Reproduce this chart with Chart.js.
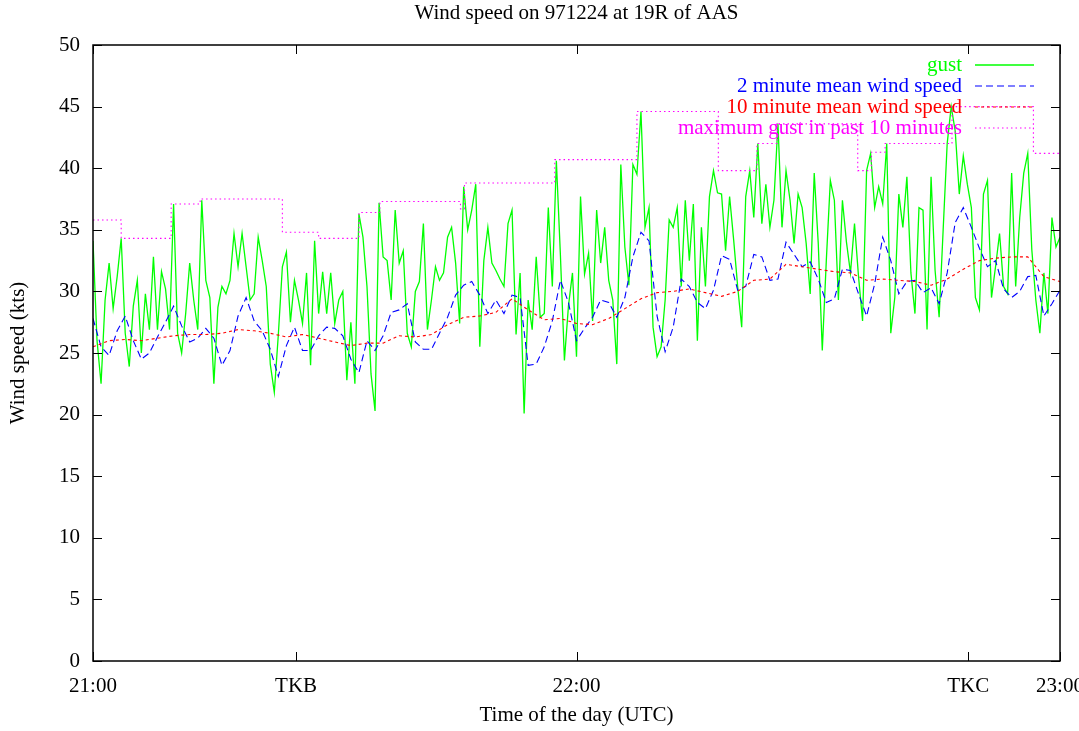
<!DOCTYPE html>
<html>
<head>
<meta charset="utf-8">
<title>Wind speed on 971224 at 19R of AAS</title>
<script src="https://cdn.jsdelivr.net/npm/chart.js@4.4.1/dist/chart.umd.min.js"></script>
<style>
  html, body { margin: 0; padding: 0; background: #ffffff; }
  canvas { display: block; }
</style>
</head>
<body>
<canvas id="wind" width="1079" height="731"></canvas>
<script>
// ---- data (minutes after 21:00 UTC, speeds in knots) ----
const chartTitle = 'Wind speed on 971224 at 19R of AAS';
const xAxisTitle = 'Time of the day (UTC)';
const yAxisTitle = 'Wind speed (kts)';

// x-axis ticks: positions in minutes after 21:00 and their labels
const xTickMinutes = [0, 25.2, 60, 108.6, 120];
const xTickLabels = ['21:00', 'TKB', '22:00', 'TKC', '23:00'];

// gust, one reading every 30 s from 21:00 to 23:00
const gustStepMinutes = 0.5;
const gust = [
  34.1, 26.0, 22.5, 29.3, 32.3, 28.6, 31.2, 34.3, 26.6, 23.9, 28.8, 30.9,
  25.0, 29.8, 26.9, 32.8, 26.9, 31.6, 30.2, 26.9, 37.1, 26.6, 25.0, 28.2,
  32.3, 29.3, 26.9, 37.4, 30.9, 29.5, 22.5, 28.7, 30.4, 29.8, 30.9, 34.7,
  32.0, 34.7, 32.0, 29.3, 29.8, 34.4, 32.5, 30.4, 24.1, 21.8, 26.5, 32.0,
  33.2, 27.5, 30.9, 29.3, 27.4, 31.5, 24.0, 34.1, 28.2, 31.6, 28.2, 31.5,
  27.4, 29.3, 30.0, 22.8, 27.5, 22.5, 36.3, 34.4, 30.4, 23.3, 20.3, 37.2,
  32.8, 32.5, 29.3, 36.6, 32.3, 33.3, 26.6, 25.5, 30.0, 30.8, 35.5, 26.9,
  29.3, 32.0, 30.9, 31.5, 34.4, 35.2, 32.3, 27.4, 38.5, 35.0, 36.6, 38.7,
  25.5, 32.5, 35.2, 32.3, 31.7, 31.0, 30.4, 35.5, 36.6, 26.5, 31.5, 20.1,
  29.3, 26.9, 32.8, 27.9, 28.2, 36.8, 30.4, 40.6, 33.0, 24.4, 28.8, 31.5,
  24.7, 37.7, 31.4, 33.1, 27.6, 36.6, 32.3, 35.2, 30.9, 29.3, 24.1, 40.3,
  33.6, 30.5, 40.3, 39.5, 44.6, 35.2, 36.8, 27.1, 24.7, 25.5, 29.3, 35.8,
  35.2, 36.8, 30.4, 37.4, 32.5, 37.1, 26.0, 35.2, 30.4, 37.7, 39.8, 38.0,
  37.9, 33.3, 37.7, 34.2, 30.4, 27.1, 37.7, 39.8, 36.0, 42.0, 35.5, 38.7,
  35.2, 37.4, 43.6, 35.2, 39.8, 37.4, 33.9, 37.9, 36.8, 33.9, 29.8, 39.6,
  33.9, 25.2, 32.5, 39.0, 37.4, 29.3, 37.4, 34.0, 31.5, 35.5, 31.2, 27.6,
  39.8, 41.2, 36.8, 38.5, 37.1, 42.0, 26.6, 29.5, 37.9, 35.2, 39.3, 31.5,
  28.2, 36.8, 36.6, 26.9, 39.3, 31.7, 27.9, 35.0, 42.0, 45.0, 43.0, 37.9,
  41.0, 38.7, 36.8, 29.5, 28.5, 37.9, 39.0, 29.5, 32.0, 34.7, 30.4, 29.8,
  39.6, 30.4, 36.0, 39.6, 41.2, 33.4, 29.3, 26.6, 31.5, 28.2, 36.0, 33.6,
  34.4
];

// 2 minute mean, one value per minute
const mean2StepMinutes = 1;
const mean2 = [
  27.8, 25.5, 24.8, 26.8, 28.0, 26.0, 24.5, 25.0, 26.3, 27.5, 28.8, 27.2,
  25.9, 26.2, 27.0, 26.2, 24.0, 25.2, 28.0, 29.5, 27.6, 26.8, 25.3, 23.1,
  25.6, 27.1, 25.2, 25.2, 26.4, 27.1, 27.0, 26.4, 24.5, 23.4, 26.0, 25.2,
  26.4, 28.3, 28.5, 29.0, 25.9, 25.3, 25.3, 26.6, 27.9, 29.7, 30.5, 30.8,
  29.7, 28.2, 29.3, 28.2, 29.7, 29.5, 24.0, 24.1, 25.5, 27.6, 30.9, 29.1,
  26.0, 27.0, 27.9, 29.3, 29.1, 27.9, 29.5, 32.8, 34.8, 34.1, 28.0, 25.1,
  27.1, 31.0, 30.4, 29.1, 28.6, 30.1, 32.9, 32.6, 30.1, 30.4, 33.0, 32.8,
  30.9, 31.0, 34.0, 33.0, 32.0, 32.4, 31.0, 29.1, 29.4, 31.8, 31.7, 29.8,
  28.0, 30.6, 34.4, 32.5, 29.8, 30.8, 30.9, 29.9, 30.3, 29.0, 31.5, 35.6,
  36.8, 35.2, 33.5, 32.0, 32.5, 30.2, 29.5, 30.0, 31.2, 31.3, 28.0, 29.0,
  30.1
];

// 10 minute mean, one value every 2 minutes
const mean10StepMinutes = 2;
const mean10 = [
  25.5, 26.0, 26.1, 26.0, 26.2, 26.4, 26.5, 26.5, 26.6, 26.9,
  26.8, 26.6, 26.3, 26.5, 26.2, 25.9, 25.6, 25.8, 25.8, 26.4,
  26.3, 26.5, 27.3, 27.9, 28.0, 28.3, 29.4, 28.5, 27.7, 27.8,
  27.4, 27.3, 27.8, 28.6, 29.4, 29.9, 30.0, 30.2, 29.9, 29.6,
  30.0, 30.9, 31.0, 32.2, 32.0, 31.8, 31.6, 31.5, 30.9, 31.0,
  30.9, 30.8, 30.5, 31.0, 31.8, 32.5, 32.7, 32.8, 32.8, 31.2,
  30.8
];

// maximum gust in the past 10 minutes: value holds from each time until the next
const maxGustMinutes = [0, 3.5, 9.7, 13.3, 23.5, 28.0, 33.0, 35.6, 45.6, 46.1, 57.3, 67.5, 77.6, 82.4, 84.9, 94.9, 96.6, 98.3, 106.6, 116.7, 120];
const maxGustValues  = [35.8, 34.3, 37.1, 37.5, 34.8, 34.3, 36.4, 37.3, 36.7, 38.8, 40.7, 44.6, 39.8, 42.0, 43.6, 39.8, 41.3, 42.0, 45.0, 41.2, 41.2];

// ---- helpers ----
const evenlySpaced = (values, step) => values.map((v, i) => ({ x: i * step, y: v }));
const paired = (xs, ys) => xs.map((x, i) => ({ x: x, y: ys[i] }));

const FAMILY = '"Liberation Serif", "Times New Roman", serif';
const textFont = { family: FAMILY, size: 21, weight: 'normal' };

// Border box and inward tick marks on all four sides (gnuplot style)
const frame = {
  id: 'frame',
  afterDatasetsDraw(chart) {
    const { ctx, chartArea: a, scales: { x, y } } = chart;
    const len = 9;
    ctx.save();
    ctx.strokeStyle = '#000';
    ctx.lineWidth = 1;
    ctx.setLineDash([]);
    ctx.beginPath();
    y.ticks.forEach(t => {
      const py = Math.round(y.getPixelForValue(t.value)) + 0.5;
      ctx.moveTo(a.left, py); ctx.lineTo(a.left + len, py);
      ctx.moveTo(a.right, py); ctx.lineTo(a.right - len, py);
    });
    x.ticks.forEach(t => {
      const px = Math.round(x.getPixelForValue(t.value)) + 0.5;
      ctx.moveTo(px, a.bottom); ctx.lineTo(px, a.bottom - len);
      ctx.moveTo(px, a.top); ctx.lineTo(px, a.top + len);
    });
    ctx.stroke();
    ctx.lineWidth = 1.5;
    ctx.strokeRect(a.left, a.top, a.right - a.left, a.bottom - a.top);
    ctx.restore();
  }
};

// Key in the upper right of the plot: right-aligned coloured text, line sample to its right
const insideKey = {
  id: 'insideKey',
  afterDatasetsDraw(chart, args, opts) {
    const ctx = chart.ctx;
    ctx.save();
    ctx.font = `${opts.fontSize}px ${FAMILY}`;
    ctx.textAlign = 'right';
    ctx.textBaseline = 'middle';
    chart.data.datasets.forEach((ds, i) => {
      const yy = opts.firstRow + i * opts.rowHeight;
      ctx.fillStyle = ds.borderColor;
      ctx.fillText(ds.label, opts.textRight, yy);
      ctx.strokeStyle = ds.borderColor;
      ctx.lineWidth = ds.borderWidth;
      ctx.setLineDash(ds.borderDash || []);
      ctx.beginPath();
      ctx.moveTo(opts.sampleFrom, yy);
      ctx.lineTo(opts.sampleTo, yy);
      ctx.stroke();
    });
    ctx.restore();
  }
};

new Chart(document.getElementById('wind'), {
  type: 'line',
  data: {
    datasets: [
      {
        label: 'gust',
        data: evenlySpaced(gust, gustStepMinutes),
        borderColor: '#00ff00', borderWidth: 1.3, pointRadius: 0, tension: 0, order: 4
      },
      {
        label: '2 minute mean wind speed',
        data: evenlySpaced(mean2, mean2StepMinutes),
        borderColor: '#0000ff', borderWidth: 1.1, borderDash: [7, 4], pointRadius: 0, tension: 0, order: 3
      },
      {
        label: '10 minute mean wind speed',
        data: evenlySpaced(mean10, mean10StepMinutes),
        borderColor: '#ff0000', borderWidth: 1.1, borderDash: [3, 3], pointRadius: 0, tension: 0, order: 2
      },
      {
        label: 'maximum gust in past 10 minutes',
        data: paired(maxGustMinutes, maxGustValues),
        borderColor: '#ff00ff', borderWidth: 1.1, borderDash: [1.5, 3], pointRadius: 0, stepped: true, order: 1
      }
    ]
  },
  options: {
    responsive: false,
    animation: false,
    devicePixelRatio: 1,
    layout: { padding: { left: 0, right: 19, top: 0, bottom: 0 } },
    plugins: {
      legend: { display: false },
      tooltip: { enabled: false },
      title: {
        display: true,
        text: chartTitle,
        color: '#000',
        font: textFont,
        fullSize: false,
        padding: { top: 1, bottom: 18.8 }
      },
      insideKey: {
        fontSize: 21,
        firstRow: 65,
        rowHeight: 21,
        textRight: 962,
        sampleFrom: 975,
        sampleTo: 1034
      }
    },
    scales: {
      x: {
        type: 'linear',
        min: 0,
        max: 120,
        afterBuildTicks: s => { s.ticks = xTickMinutes.map(v => ({ value: v })); },
        afterFit: s => { s.height = 70; s.paddingLeft = 0; s.paddingRight = 0; },
        ticks: {
          autoSkip: false,
          maxRotation: 0,
          padding: 13,
          color: '#000',
          font: textFont,
          callback: (value, index) => xTickLabels[index]
        },
        grid: { display: false, drawTicks: false },
        border: { display: false },
        title: {
          display: true,
          text: xAxisTitle,
          color: '#000',
          font: textFont,
          padding: { top: 0, bottom: 3.4 }
        }
      },
      y: {
        type: 'linear',
        min: 0,
        max: 50,
        afterFit: s => { s.width = 93; s.paddingTop = 0; s.paddingBottom = 0; },
        ticks: {
          stepSize: 5,
          padding: 13,
          color: '#000',
          font: textFont
        },
        grid: { display: false, drawTicks: false },
        border: { display: false },
        title: {
          display: true,
          text: yAxisTitle,
          color: '#000',
          font: textFont,
          padding: { top: 6, bottom: 0 }
        }
      }
    }
  },
  plugins: [frame, insideKey]
});
</script>
</body>
</html>
